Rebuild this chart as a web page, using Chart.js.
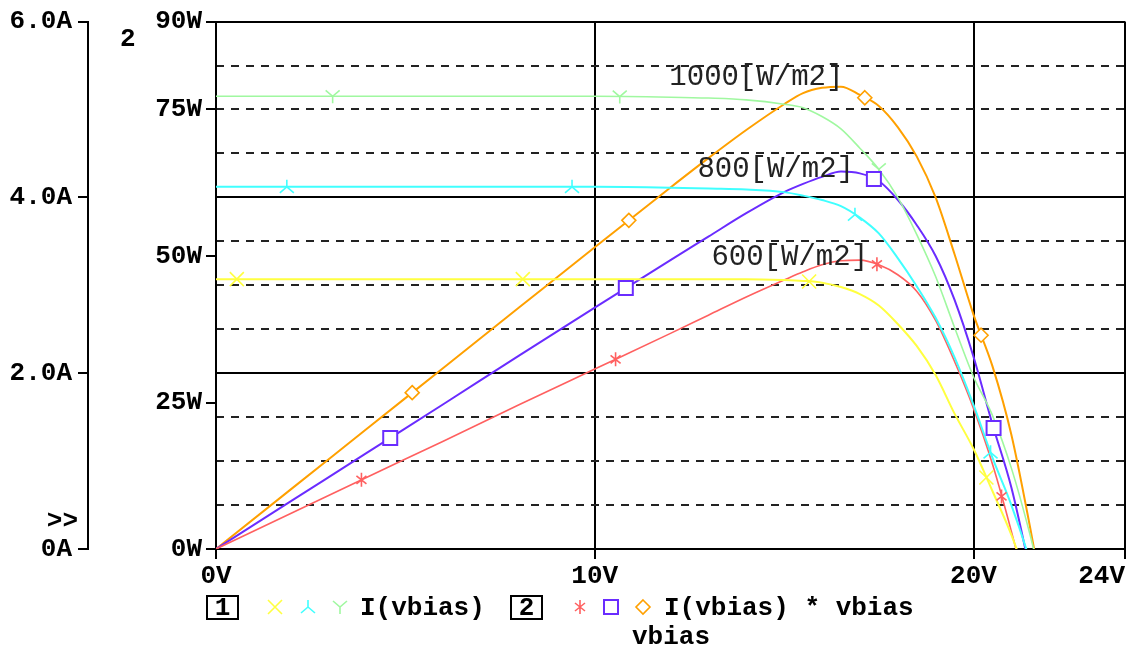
<!DOCTYPE html>
<html>
<head>
<meta charset="utf-8">
<script src="https://cdn.jsdelivr.net/npm/chart.js@4"></script>
<style>
  html, body { margin: 0; padding: 0; background: #fff; }
  canvas { display: block; }
</style>
</head>
<body>
<canvas id="pvChart" width="1136" height="647"></canvas>
<script>
// sweep of vbias (V)
const voltage = [0, 2, 4, 6, 8, 10, 12, 13, 14, 15, 15.5, 16, 16.5, 17, 17.5, 18, 18.5, 19, 19.5, 20, 20.5, 21, 21.5, 22];

// I(vbias) in A, one list per irradiance
const current1000 = [5.15, 5.15, 5.15, 5.15, 5.15, 5.15, 5.14, 5.13, 5.11, 5.06, 5.02, 4.92, 4.78, 4.56, 4.32, 4.00, 3.58, 3.10, 2.52, 1.96, 1.52, 0.92, 0.15, -0.75];
const current800 = [4.12, 4.12, 4.12, 4.12, 4.12, 4.12, 4.11, 4.10, 4.09, 4.06, 4.02, 3.97, 3.90, 3.77, 3.59, 3.31, 2.99, 2.63, 2.18, 1.64, 1.04, 0.50, -0.15, -0.95];
const current600 = [3.07, 3.07, 3.07, 3.07, 3.07, 3.07, 3.07, 3.07, 3.07, 3.06, 3.05, 3.03, 2.98, 2.90, 2.77, 2.56, 2.31, 1.98, 1.54, 1.14, 0.66, 0.16, -0.45, -1.15];

// I(vbias) * vbias in W
const power1000 = [0, 10.3, 20.6, 30.9, 41.2, 51.5, 61.7, 66.7, 71.5, 75.9, 77.8, 78.7, 78.9, 77.5, 75.6, 72.0, 67.0, 60.0, 50.3, 40.0, 31.2, 19.5, 3.5, -14.0];
const power800 = [0, 8.24, 16.5, 24.7, 33.0, 41.2, 49.3, 53.3, 57.3, 60.9, 62.3, 63.5, 64.4, 64.1, 62.8, 59.6, 55.3, 50.0, 42.5, 32.8, 21.3, 10.5, -4.0, -20.0];
const power600 = [0, 6.14, 12.3, 18.4, 24.6, 30.7, 36.8, 39.9, 43.0, 45.9, 47.3, 48.5, 49.2, 49.3, 48.5, 46.8, 44.0, 39.0, 32.0, 24.0, 14.5, 3.0, -10.0, -26.0];

// where the trace symbols sit (V)
const marks600I = [0.55, 8.1, 15.66, 20.34];
const marks800I = [1.87, 9.4, 16.87, 20.45];
const marks1000I = [3.08, 10.66, 17.5];
const marks600P = [3.84, 10.55, 17.45, 20.74];
const marks800P = [4.6, 10.82, 17.37, 20.53];
const marks1000P = [5.18, 10.9, 17.13, 20.2];

const irradianceText = ["1000[W/m2]", "800[W/m2]", "600[W/m2]"];
const irradianceAtV = [11.97, 12.71, 13.08];
const irradianceAtW = [80.5, 64.8, 49.7];

const voltTicks = [0, 10, 20, 24];
const currentTicks = [0, 2, 4, 6];
const powerTicks = [0, 25, 50, 75, 90];

const BOLD = "bold 26px 'Liberation Mono', 'DejaVu Sans Mono', monospace";
const col = {
  yellow: "#ffff40", cyan: "#40ffff", green: "#a0f8a0",
  red: "#ff6060", purple: "#6a2cff", orange: "#ffa000"
};

function pts(ys) {
  return voltage.map((v, i) => ({ x: v, y: ys[i] }));
}

function valueAt(ys, v) {
  for (let i = 1; i < voltage.length; i++) {
    if (v <= voltage[i]) {
      const t = (v - voltage[i - 1]) / (voltage[i] - voltage[i - 1]);
      return ys[i - 1] + t * (ys[i] - ys[i - 1]);
    }
  }
  return ys[ys.length - 1];
}

function glyph(ctx, kind, x, y, color) {
  ctx.save();
  ctx.strokeStyle = color;
  ctx.lineWidth = 1.6;
  ctx.beginPath();
  if (kind === "x") {
    ctx.moveTo(x - 7, y - 7); ctx.lineTo(x + 7, y + 7);
    ctx.moveTo(x + 7, y - 7); ctx.lineTo(x - 7, y + 7);
  } else if (kind === "down") {
    ctx.moveTo(x, y - 7); ctx.lineTo(x, y);
    ctx.lineTo(x - 7, y + 6);
    ctx.moveTo(x, y); ctx.lineTo(x + 7, y + 6);
  } else if (kind === "up") {
    ctx.moveTo(x - 7, y - 6); ctx.lineTo(x, y);
    ctx.lineTo(x + 7, y - 6);
    ctx.moveTo(x, y); ctx.lineTo(x, y + 7);
  } else if (kind === "star") {
    ctx.moveTo(x, y - 7); ctx.lineTo(x, y + 7);
    ctx.moveTo(x - 5, y - 4); ctx.lineTo(x + 5, y + 4);
    ctx.moveTo(x + 5, y - 4); ctx.lineTo(x - 5, y + 4);
  } else if (kind === "square") {
    ctx.lineWidth = 2;
    ctx.fillStyle = "#fff";
    ctx.fillRect(x - 7, y - 7, 14, 14);
    ctx.rect(x - 7, y - 7, 14, 14);
  } else if (kind === "diamond") {
    ctx.fillStyle = "#fff";
    ctx.moveTo(x, y - 7); ctx.lineTo(x + 7, y);
    ctx.lineTo(x, y + 7); ctx.lineTo(x - 7, y);
    ctx.closePath();
    ctx.fill();
  }
  ctx.stroke();
  ctx.restore();
}

const traces = [
  { ys: current600, axis: "yA", color: col.yellow, w: 2, kind: "x", at: marks600I },
  { ys: current800, axis: "yA", color: col.cyan, w: 2, kind: "down", at: marks800I },
  { ys: current1000, axis: "yA", color: col.green, w: 1.6, kind: "up", at: marks1000I },
  { ys: power600, axis: "yP", color: col.red, w: 1.6, kind: "star", at: marks600P },
  { ys: power800, axis: "yP", color: col.purple, w: 2, kind: "square", at: marks800P },
  { ys: power1000, axis: "yP", color: col.orange, w: 2, kind: "diamond", at: marks1000P }
];

const decorations = {
  id: "decorations",
  afterDatasetsDraw(chart) {
    const ctx = chart.ctx;
    const x = chart.scales.x;
    const yP = chart.scales.yP;

    ctx.save();
    ctx.font = "29px 'Liberation Mono', 'DejaVu Sans Mono', monospace";
    ctx.fillStyle = "#222";
    ctx.textBaseline = "middle";
    irradianceText.forEach((t, i) => {
      ctx.fillText(t, x.getPixelForValue(irradianceAtV[i]), yP.getPixelForValue(irradianceAtW[i]));
    });
    ctx.restore();

    traces.forEach(tr => {
      const ys = chart.scales[tr.axis];
      tr.at.forEach(v => {
        glyph(ctx, tr.kind, x.getPixelForValue(v), ys.getPixelForValue(valueAt(tr.ys, v)), tr.color);
      });
    });
  },
  afterDraw(chart) {
    const ctx = chart.ctx;
    const area = chart.chartArea;
    ctx.save();
    ctx.fillStyle = "#000";
    ctx.font = BOLD;
    ctx.textBaseline = "middle";
    ctx.fillText("2", area.left - 96, area.top + 18);
    ctx.textAlign = "right";
    ctx.fillText(">>", chart.scales.yA.right - 10, area.bottom - 28);
    ctx.textAlign = "left";

    // trace legend
    const row = 607;
    ctx.strokeStyle = "#000";
    ctx.lineWidth = 2;
    ctx.strokeRect(207, 596, 31, 23);
    ctx.strokeRect(511, 596, 31, 23);
    ctx.textAlign = "center";
    ctx.fillText("1", 222.5, row + 1);
    ctx.fillText("2", 526.5, row + 1);
    ctx.textAlign = "left";
    ctx.fillText("I(vbias)", 360, row + 1);
    ctx.fillText("I(vbias) * vbias", 664, row + 1);
    ctx.fillText("vbias", 632, row + 30);
    ctx.restore();

    glyph(ctx, "x", 275, row, col.yellow);
    glyph(ctx, "down", 308, row, col.cyan);
    glyph(ctx, "up", 340, row, col.green);
    glyph(ctx, "star", 580, row, col.red);
    glyph(ctx, "square", 611, row, col.purple);
    glyph(ctx, "diamond", 643, row, col.orange);
  }
};

const tickFont = { family: "'Liberation Mono', 'DejaVu Sans Mono', monospace", size: 26, weight: "bold" };

new Chart(document.getElementById("pvChart"), {
  type: "line",
  data: {
    datasets: traces.map(tr => ({
      data: pts(tr.ys),
      yAxisID: tr.axis,
      borderColor: tr.color,
      borderWidth: tr.w,
      pointRadius: 0,
      fill: false,
      cubicInterpolationMode: "monotone"
    }))
  },
  options: {
    responsive: false,
    animation: false,
    devicePixelRatio: 1,
    layout: { padding: { top: 20, right: 11, left: 0, bottom: 0 } },
    plugins: { legend: { display: false }, tooltip: { enabled: false } },
    scales: {
      x: {
        type: "linear",
        min: 0,
        max: 24,
        afterBuildTicks: s => { s.ticks = voltTicks.map(v => ({ value: v })); },
        ticks: {
          font: tickFont, color: "#000", padding: 2, maxRotation: 0, autoSkip: false,
          callback: v => (v === 24 ? "24V   " : v + "V")
        },
        grid: { color: "#000", lineWidth: 2, tickLength: 10 },
        border: { color: "#000", width: 2 },
        afterFit: s => { s.height = 98; s.paddingRight = 0; s.paddingLeft = 0; }
      },
      yA: {
        position: "left",
        weight: 2,
        min: 0,
        max: 6,
        afterBuildTicks: s => { s.ticks = currentTicks.map(v => ({ value: v })); },
        ticks: {
          font: tickFont, color: "#000", padding: 6,
          callback: v => (v === 0 ? "0A" : v.toFixed(1) + "A")
        },
        grid: { color: "#000", lineWidth: 2, tickLength: 10 },
        border: { color: "#000", width: 2 },
        afterFit: s => { s.width = 88; }
      },
      yP: {
        position: "left",
        weight: 1,
        min: 0,
        max: 90,
        afterBuildTicks: s => { s.ticks = powerTicks.map(v => ({ value: v })); },
        ticks: { font: tickFont, color: "#000", padding: 4, callback: v => v + "W" },
        grid: { drawOnChartArea: false, color: "#000", lineWidth: 2, tickLength: 10 },
        border: { color: "#000", width: 2 },
        afterFit: s => { s.width = 128; }
      },
      yGrid: {
        position: "left",
        weight: 0,
        min: 0,
        max: 90,
        ticks: { display: false, stepSize: 7.5 },
        grid: {
          drawTicks: false,
          tickLength: 0,
          lineWidth: 2,
          color: c => ([0, 30, 60, 90].includes(c.tick.value) ? "rgba(0,0,0,0)" : "#222")
        },
        border: { display: false, dash: [8, 7] },
        afterFit: s => { s.width = 0; }
      }
    }
  },
  plugins: [decorations]
});
</script>
</body>
</html>
